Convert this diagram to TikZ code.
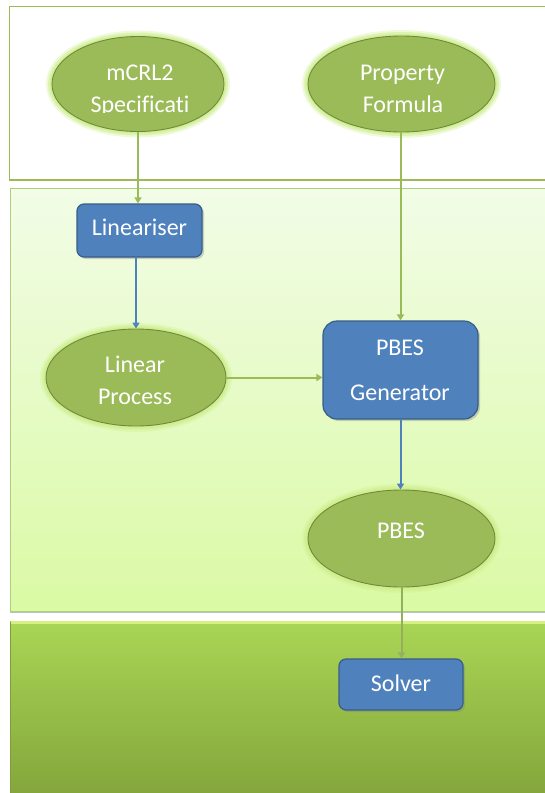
\documentclass[tikz,border=0pt]{standalone}
\usepackage{fontspec}
\setmainfont[Ligatures=NoCommon]{Carlito}
\usetikzlibrary{shapes.geometric,arrows.meta,shadows}

\definecolor{olive}{HTML}{9BBB59}
\definecolor{oliveDark}{HTML}{71893F}
\definecolor{glowc}{HTML}{CDEE8A}
\definecolor{boxblue}{HTML}{4F81BD}
\definecolor{boxedge}{HTML}{385D8A}
\definecolor{midTop}{HTML}{F2FCE7}
\definecolor{midBot}{HTML}{DAFAA4}
\definecolor{midEdge}{HTML}{AFCF7C}
\definecolor{lowTop}{HTML}{A9D655}
\definecolor{lowBot}{HTML}{83A43B}
\definecolor{lowHi}{HTML}{D6F081}
\definecolor{lowEdge}{HTML}{7E9E3A}

\begin{document}
\begin{tikzpicture}[x=1pt,y=-1pt,
  bubble/.style={ellipse, fill=olive, draw=oliveDark, line width=0.9pt, inner sep=0pt,
    preaction={draw=glowc, line width=12pt, opacity=0.3},
    preaction={draw=glowc, line width=8pt, opacity=0.5},
    preaction={draw=glowc, line width=4pt, opacity=0.8}},
  proc/.style={rectangle, rounded corners=7pt, fill=boxblue, draw=boxedge, line width=1.2pt,
    inner sep=0pt,
    drop shadow={shadow xshift=2pt, shadow yshift=-2pt, opacity=0.35}},
  lbl/.style={text=white, font=\fontsize{24}{28}\selectfont, anchor=base, inner sep=0pt},
  flowG/.style={draw=olive, line width=2pt, -{Triangle[width=7pt,length=6pt]}},
  flowB/.style={draw=boxblue, line width=2pt, -{Triangle[width=7pt,length=6pt]}},
]
\useasboundingbox (0,0) rectangle (545,793);
\fill[white] (0,0) rectangle (545,793);

% three bands
\draw[draw=olive, line width=1.8pt, fill=white] (9.5,6.5) rectangle (570,180);
\shade[top color=midTop, bottom color=midBot, draw=midEdge, line width=0.9pt]
  (10,188) rectangle (570,611);
\draw[black!25, line width=1.2pt] (10,612.3) -- (545,612.3);
\shade[top color=lowTop, bottom color=lowBot] (10,621) rectangle (570,800);
\draw[lowHi, line width=2.5pt] (11,622.5) -- (570,622.5);
\draw[lowEdge, line width=1.5pt] (10.7,622) -- (10.7,800);

% shapes
\node[bubble, minimum width=172pt, minimum height=95pt] (spec) at (138,84) {};
\node[bubble, minimum width=187pt, minimum height=96pt] (prop) at (401.5,84) {};
\node[proc, minimum width=125pt, minimum height=53pt] (lin) at (139.5,230.5) {};
\node[bubble, minimum width=180pt, minimum height=97pt] (lp) at (136,377.5) {};
\node[proc, minimum width=155pt, minimum height=98pt, rounded corners=14pt] (gen) at (400.5,370) {};
\node[bubble, minimum width=187pt, minimum height=97pt] (pbes) at (401.5,538.5) {};
\node[proc, minimum width=124pt, minimum height=51pt] (solver) at (401,684.5) {};

% connectors
\draw[flowG] (spec.south) -- (spec.south |- lin.north);
\draw[flowB] (lp.north |- lin.south) -- (lp.north);
\draw[flowG] (gen.north |- prop.south) -- (gen.north);
\draw[flowG] (lp.east) -- (lp.east -| gen.west);
\draw[flowB] (gen.south) -- (gen.south |- pbes.north);
\draw[flowG, draw=olive!80!gray] (pbes.south) -- (pbes.south |- solver.north);

% labels
\node[lbl] (specA) at (140,80) {mCRL2};
\begin{scope}
  \clip (40,60) rectangle (240,112.6);
  \node[lbl] (specB) at (140,112) {Specificati};
\end{scope}
\node[lbl] (propA) at (402.5,80) {Property};
\node[lbl] (propB) at (403,112) {Formula};
\node[lbl] (linT) at (139.5,235) {Lineariser};
\node[lbl] (lpA) at (135,372) {Linear};
\node[lbl] (lpB) at (135,404) {Process};
\node[lbl] (genA) at (400,355) {PBES};
\node[lbl] (genB) at (400,400) {Generator};
\node[lbl] (pbesT) at (401,538) {PBES};
\node[lbl] (solT) at (401,691) {Solver};
\end{tikzpicture}
\end{document}
